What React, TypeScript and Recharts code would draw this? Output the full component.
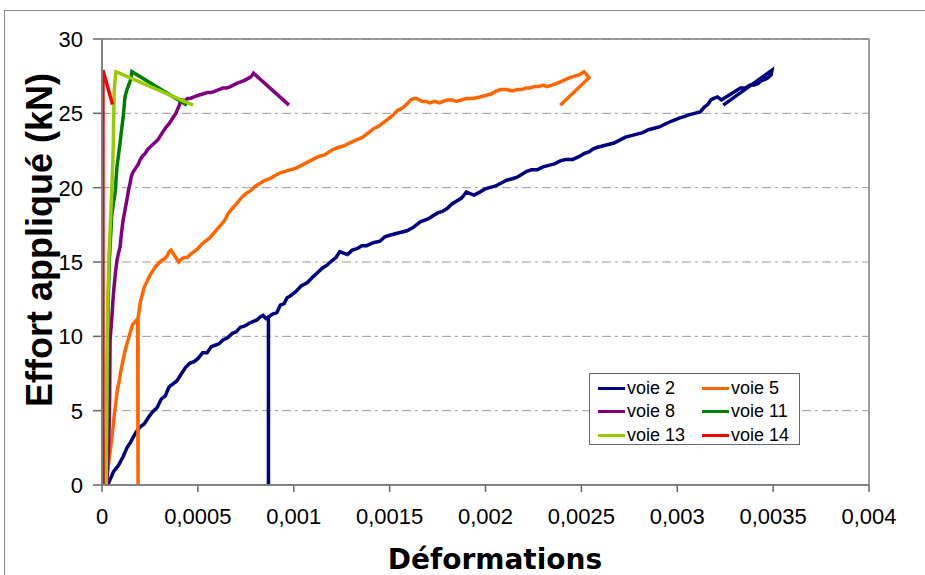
import React from 'react';
import { LineChart, Line, XAxis, YAxis, CartesianGrid } from 'recharts';

type Pt = [number, number];

// strain read in microstrain (x 1e-6), load in kN
const voie2: Pt[] = [
  [30, 0], [60, 0.9], [85, 1.3], [110, 1.9], [130, 2.5], [150, 2.9], [175, 3.5], [198, 3.9], [220, 4.1],
  [240, 4.5], [262, 4.9], [287, 5.2], [310, 5.8], [330, 6.0], [350, 6.6], [370, 6.8], [390, 7.0], [410, 7.4],
  [435, 7.9], [459, 8.2], [480, 8.3], [500, 8.5], [525, 8.9], [548, 8.9], [570, 9.3], [590, 9.4], [610, 9.5],
  [631, 9.75], [655, 9.9], [680, 10.2], [700, 10.3], [720, 10.6], [745, 10.7], [770, 10.9], [790, 11.0],
  [808, 11.1], [825, 11.3], [840, 11.4], [855, 11.2], [868, 11.3], [868, 0], [868, 11.3], [890, 11.5],
  [912, 11.6], [930, 12.1], [950, 12.2], [965, 12.6], [980, 12.7], [1010, 13.0], [1040, 13.4], [1070, 13.6],
  [1100, 14.0], [1125, 14.3], [1150, 14.6], [1175, 14.8], [1200, 15.1], [1220, 15.3], [1240, 15.7],
  [1260, 15.6], [1280, 15.5], [1305, 15.8], [1330, 15.9], [1355, 16.1], [1380, 16.1], [1415, 16.3],
  [1450, 16.4], [1475, 16.7], [1500, 16.8], [1530, 16.9], [1560, 17.0], [1590, 17.1], [1620, 17.3],
  [1660, 17.7], [1700, 17.9], [1725, 18.1], [1750, 18.3], [1775, 18.4], [1800, 18.6], [1825, 18.9],
  [1850, 19.1], [1875, 19.3], [1900, 19.7], [1920, 19.6], [1940, 19.5], [1970, 19.7], [1995, 19.9],
  [2020, 20.0], [2050, 20.1], [2080, 20.3], [2110, 20.5], [2140, 20.6], [2165, 20.7], [2190, 20.9],
  [2215, 21.1], [2240, 21.2], [2270, 21.2], [2300, 21.4], [2330, 21.5], [2360, 21.6], [2390, 21.8],
  [2420, 21.9], [2455, 21.9], [2490, 22.1], [2515, 22.3], [2540, 22.4], [2560, 22.6], [2580, 22.7],
  [2610, 22.8], [2640, 22.9], [2670, 23.0], [2700, 23.2], [2730, 23.4], [2760, 23.5], [2790, 23.6],
  [2820, 23.7], [2850, 23.9], [2880, 24.0], [2910, 24.1], [2940, 24.3], [2975, 24.5], [3014, 24.7],
  [3040, 24.8], [3060, 24.9], [3090, 25.0], [3120, 25.1], [3140, 25.4], [3160, 25.6], [3175, 25.9],
  [3190, 26.0], [3210, 26.1], [3230, 25.9], [3255, 26.1], [3280, 26.3], [3305, 26.5], [3330, 26.7],
  [3355, 26.7], [3380, 26.9], [3400, 26.9], [3420, 27.0], [3440, 27.2], [3460, 27.3], [3475, 27.4],
  [3490, 27.6], [3494, 27.9], [3240, 25.55],
];

const voie5: Pt[] = [
  [20, 0], [28, 0.8], [35, 1.5], [42, 2.2], [50, 3.0], [58, 3.9], [65, 4.8], [72, 5.5], [80, 6.4], [90, 7.0],
  [100, 7.8], [110, 8.4], [120, 9.0], [128, 9.4], [136, 9.75], [148, 10.3], [160, 10.8], [174, 11.0],
  [186, 11.2], [188, 0], [188, 11.2], [200, 12.3], [210, 12.8], [220, 13.3], [235, 13.7], [250, 14.1],
  [265, 14.4], [280, 14.7], [295, 14.9], [310, 15.1], [325, 15.2], [340, 15.4], [350, 15.7], [360, 15.8],
  [370, 15.6], [380, 15.4], [390, 15.2], [400, 15.0], [415, 15.2], [430, 15.3], [445, 15.3], [460, 15.5],
  [480, 15.7], [500, 15.9], [520, 16.2], [540, 16.4], [560, 16.6], [580, 16.9], [600, 17.2], [620, 17.5],
  [640, 17.8], [660, 18.3], [680, 18.6], [700, 18.9], [725, 19.3], [750, 19.6], [775, 19.8], [800, 20.1],
  [825, 20.3], [850, 20.5], [875, 20.6], [900, 20.8], [915, 20.9], [930, 21.0], [955, 21.1], [980, 21.2],
  [1010, 21.3], [1040, 21.5], [1070, 21.7], [1100, 21.9], [1130, 22.1], [1160, 22.2], [1195, 22.5],
  [1230, 22.7], [1260, 22.8], [1290, 23.0], [1325, 23.2], [1360, 23.4], [1390, 23.7], [1420, 24.0],
  [1440, 24.1], [1460, 24.3], [1480, 24.5], [1500, 24.7], [1520, 24.9], [1540, 25.2], [1560, 25.3],
  [1580, 25.5], [1595, 25.7], [1610, 25.9], [1625, 26.0], [1640, 26.0], [1655, 25.9], [1670, 25.8],
  [1690, 25.8], [1710, 25.7], [1735, 25.8], [1760, 25.7], [1780, 25.8], [1800, 25.9], [1825, 25.9],
  [1850, 25.8], [1875, 25.9], [1900, 26.0], [1935, 26.0], [1970, 26.1], [2000, 26.2], [2030, 26.3],
  [2055, 26.5], [2080, 26.6], [2110, 26.6], [2140, 26.5], [2165, 26.6], [2190, 26.6], [2210, 26.7],
  [2230, 26.7], [2255, 26.8], [2280, 26.8], [2300, 26.9], [2320, 26.8], [2345, 26.9], [2370, 27.0],
  [2405, 27.2], [2440, 27.4], [2465, 27.5], [2490, 27.6], [2514, 27.8], [2540, 27.4], [2390, 25.55],
];

const voie8: Pt[] = [
  [25, 0], [30, 1.5], [35, 3.0], [38, 4.5], [40, 6.0], [41, 8.0], [42, 9.75], [46, 10.4], [50, 11.0],
  [57, 12.4], [62, 13.2], [68, 14.0], [73, 14.6], [78, 15.1], [86, 15.6], [94, 16.0], [102, 17.0],
  [110, 17.8], [120, 18.5], [130, 19.2], [138, 19.8], [145, 20.2], [152, 20.7], [160, 21.0], [175, 21.3],
  [190, 21.6], [200, 21.9], [210, 22.1], [225, 22.3], [240, 22.6], [265, 22.9], [290, 23.2], [310, 23.6],
  [330, 24.0], [350, 24.3], [370, 24.7], [385, 25.0], [395, 25.3], [405, 25.6], [410, 25.9], [420, 25.9],
  [430, 25.8], [445, 26.0], [460, 26.0], [480, 26.1], [500, 26.2], [525, 26.3], [550, 26.4], [570, 26.4],
  [590, 26.5], [610, 26.6], [630, 26.7], [650, 26.7], [670, 26.8], [685, 26.9], [700, 27.0], [720, 27.1],
  [740, 27.2], [755, 27.3], [770, 27.4], [780, 27.5], [790, 27.7], [975, 25.55],
];

const voie11: Pt[] = [
  [20, 0], [22, 2.5], [25, 5.0], [27, 7.5], [30, 10.0], [33, 12.5], [38, 15.0], [44, 16.5], [50, 18.0],
  [60, 19.0], [68, 19.6], [73, 20.5], [78, 21.4], [86, 22.2], [94, 23.0], [102, 23.9], [110, 24.7],
  [115, 25.4], [120, 26.1], [128, 26.5], [136, 26.8], [145, 27.1], [150, 27.3], [156, 27.8], [443, 25.55],
];

const voie13: Pt[] = [
  [22, 0], [23, 2.5], [25, 5.0], [26, 7.5], [28, 10.0], [31, 12.5], [35, 15.0], [40, 16.5], [45, 18.0],
  [50, 19.6], [54, 20.8], [57, 21.9], [59, 23.0], [60, 24.1], [62, 25.2], [63, 26.4], [67, 27.1],
  [73, 27.8], [475, 25.55],
];

const voie14: Pt[] = [
  [5, 0], [5, 7], [5, 14], [5, 21], [5, 27.9], [55, 25.6],
];

const seriesNames = ['voie 2', 'voie 5', 'voie 8', 'voie 11', 'voie 13', 'voie 14'];
const seriesColors = ['#000080', '#FF6600', '#800080', '#008000', '#99CC00', '#FF0000'];
const seriesData = [voie2, voie5, voie8, voie11, voie13, voie14];

const xTicks = [0, 500, 1000, 1500, 2000, 2500, 3000, 3500, 4000];
const xTickLabels = ['0', '0,0005', '0,001', '0,0015', '0,002', '0,0025', '0,003', '0,0035', '0,004'];
const yTicks = [0, 5, 10, 15, 20, 25, 30];

const FONT = '"Liberation Sans", Arial, sans-serif';

const XTick = (props: any) => {
  const { x, y, payload } = props;
  const i = xTicks.indexOf(payload.value);
  return (
    <text x={x} y={y} dy={30} textAnchor="middle" fontSize={22} fontFamily={FONT} fill="#000">
      {i >= 0 ? xTickLabels[i] : payload.value}
    </text>
  );
};

const YTick = (props: any) => {
  const { x, y, payload } = props;
  return (
    <text x={x} y={y} dx={-8} dy={8} textAnchor="end" fontSize={22} fontFamily={FONT} fill="#000">
      {payload.value}
    </text>
  );
};

const LegendBox = () => (
  <div
    style={{
      position: 'absolute',
      left: 589,
      top: 373,
      width: 209,
      height: 70,
      border: '1px solid #666',
      background: '#fff',
      fontFamily: FONT,
      fontSize: 18,
    }}
  >
    {seriesNames.map((name, i) => {
      const col = i % 2;
      const row = Math.floor(i / 2);
      return (
        <div
          key={name}
          style={{
            position: 'absolute',
            left: col === 0 ? 8 : 112,
            top: 3 + row * 23.5,
            height: 22,
            display: 'flex',
            alignItems: 'center',
            whiteSpace: 'nowrap',
          }}
        >
          <span style={{ display: 'inline-block', width: 27, height: 3, background: seriesColors[i], marginRight: 2 }} />
          <span>{name}</span>
        </div>
      );
    })}
  </div>
);

export default function App() {
  return (
    <div style={{ position: 'absolute', left: 0, top: 0, width: 925, height: 575, overflow: 'hidden', background: '#fff' }}>
      <div style={{ position: 'absolute', left: 4, top: 10, width: 960, height: 620, border: '1px solid #888' }} />
      <LineChart width={925} height={575} margin={{ top: 39, right: 56, bottom: 30, left: 42 }}>
        <CartesianGrid vertical={false} stroke="#9a9a9a" strokeDasharray="9 4 3 4" />
        <XAxis
          dataKey="x"
          type="number"
          domain={[0, 4000]}
          ticks={xTicks}
          allowDataOverflow
          height={60}
          tick={<XTick />}
          tickSize={7}
          stroke="#666"
          strokeWidth={1.5}
        />
        <YAxis
          type="number"
          domain={[0, 30]}
          ticks={yTicks}
          width={60}
          tick={<YTick />}
          tickSize={9}
          stroke="#666"
          strokeWidth={1.5}
        />
        {seriesData.map((pts, i) => (
          <Line
            key={seriesNames[i]}
            name={seriesNames[i]}
            data={pts.map(([x, y]) => ({ x, y }))}
            dataKey="y"
            stroke={seriesColors[i]}
            strokeWidth={3.5}
            dot={false}
            activeDot={false}
            isAnimationActive={false}
          />
        ))}
      </LineChart>
      <svg width={925} height={575} style={{ position: 'absolute', left: 0, top: 0, pointerEvents: 'none' }}>
        <rect x={102} y={39} width={767} height={446} fill="none" stroke="#808080" strokeWidth={1.5} />
        <text
          transform="translate(39,240) rotate(-90)"
          textAnchor="middle"
          dominantBaseline="central"
          fontSize={36}
          fontWeight="bold"
          fontFamily={FONT}
          fill="#000"
        >
          Effort appliqué (kN)
        </text>
        <text x={495} y={569} textAnchor="middle" fontSize={28} fontWeight="bold" fontFamily='"DejaVu Sans", sans-serif' fill="#000">
          Déformations
        </text>
      </svg>
      <LegendBox />
    </div>
  );
}
